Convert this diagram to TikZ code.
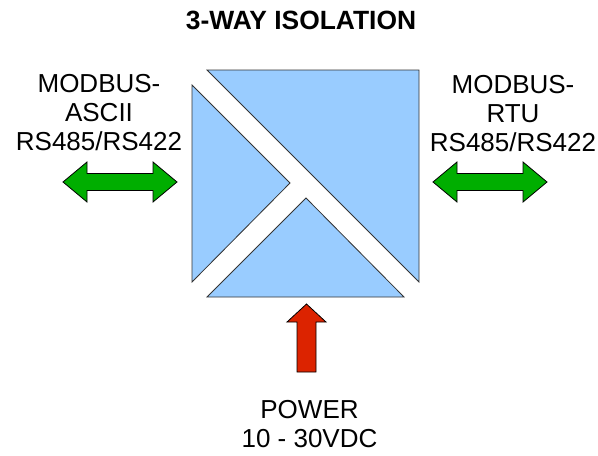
\documentclass[tikz,border=0pt]{standalone}
\usepackage{fontspec}
\setmainfont{Liberation Sans}
\definecolor{isoblue}{HTML}{99CCFF}
\definecolor{busgreen}{HTML}{00AE00}
\definecolor{pwrred}{HTML}{DC2300}
\begin{document}
\begin{tikzpicture}[x=0.75pt,y=-0.75pt,
	part/.style={fill=isoblue,draw=black!80,line width=0.6pt,line join=miter},
	busarrow/.style={fill=busgreen,draw=black,line width=0.6pt},
	pwrarrow/.style={fill=pwrred,draw=black,line width=0.6pt},
	lbl/.style={font=\fontsize{19.5}{21.75}\selectfont,align=center,inner sep=0pt,anchor=base}]
	\useasboundingbox (0,0) rectangle (598,455);
	\node[lbl,font=\fontsize{19.8}{21.75}\selectfont\bfseries] (title) at (301,29) {3-WAY ISOLATION};
	% isolation block
	\draw[part] (207,70) -- (419,70) -- (419,282) -- cycle; %output side
	\draw[part] (192,85) -- (290,183) -- (192,282) -- cycle; %input side
	\draw[part] (306,198) -- (404,297) -- (207,297) -- cycle; %supply side
	% bus arrows
	\foreach \cx in {120,490}{
		\draw[busarrow] (\cx-57,182) -- (\cx-33,162) -- (\cx-33,173.5) -- (\cx+33,173.5) -- (\cx+33,162)
			-- (\cx+57,182) -- (\cx+33,202) -- (\cx+33,190.5) -- (\cx-33,190.5) -- (\cx-33,202) -- cycle;}
	% power arrow
	\draw[pwrarrow] (306.5,304) -- (326,322) -- (316,322) -- (316,372) -- (297,372) -- (297,322) -- (287,322) -- cycle;
	\node[lbl] (ascii) at (99,150) {MODBUS-\\ASCII\\RS485/RS422};
	\node[lbl] (rtu) at (513,151) {MODBUS-\\RTU\\RS485/RS422};
	\node[lbl] (power) at (309.5,447) {POWER\\10 - 30VDC};
\end{tikzpicture}
\end{document}
